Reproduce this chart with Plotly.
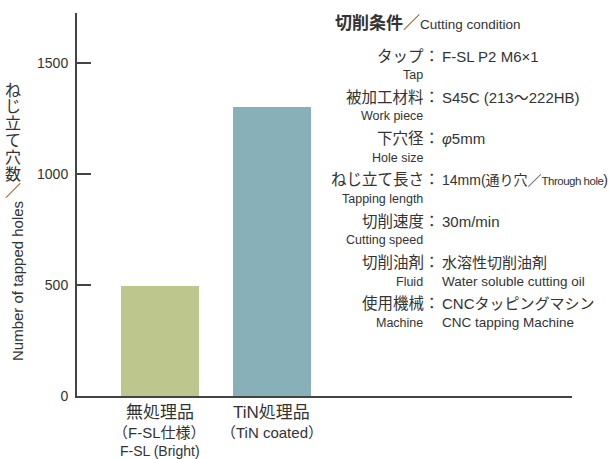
import plotly.graph_objects as go

# Data
categories = ["無処理品", "TiN処理品"]
cat_sub1 = ["（F-SL仕様）", "（TiN coated）"]
cat_sub2 = ["F-SL (Bright)", ""]
holes = [495, 1300]
bar_colors = ["#BDC68C", "#87B0B9"]
y_ticks = [0, 500, 1000, 1500]

cond_jp = ["タップ", "被加工材料", "下穴径", "ねじ立て長さ", "切削速度", "切削油剤", "使用機械"]
cond_en = ["Tap", "Work piece", "Hole size", "Tapping length", "Cutting speed", "Fluid", "Machine"]
cond_val = ["F-SL P2 M6×1", "S45C (213〜222HB)", "<i>φ</i>5mm",
            "<span style='font-size:14px'>14mm(通り穴／</span>"
            "<span style='font-size:11.5px;letter-spacing:-0.5px'>Through hole</span>"
            "<span style='font-size:14px'>)</span>",
            "30m/min", "水溶性切削油剤", "CNCタッピングマシン"]
cond_val_en = ["", "", "", "", "", "Water soluble cutting oil", "CNC tapping Machine"]

y_title_jp = "ねじ立て穴数／"
y_title_en = "Number of tapped holes"

FONT = "Liberation Sans, Arial, Noto Sans CJK JP, sans-serif"
TXT = "#333333"
AX = "#444444"

W, H = 612, 459
L, R, T, B = 77, 572, 13, 396


def px(x):
    return (x - L) / (R - L)


def py(y):
    return (B - y) / (B - T)


fig = go.Figure()
fig.add_trace(go.Bar(x=[0, 1], y=holes, width=0.7,
                     marker=dict(color=bar_colors, line=dict(width=0))))

ann = []
# category labels under the bars
for i, (c, s1, s2) in enumerate(zip(categories, cat_sub1, cat_sub2)):
    ann.append(dict(x=i, y=py(413), xref="x", yref="paper", text=c, showarrow=False,
                    font=dict(size=17, color=TXT), xanchor="center", yanchor="middle"))
    ann.append(dict(x=i, y=py(432), xref="x", yref="paper", text=s1, showarrow=False,
                    font=dict(size=15, color=TXT), xanchor="center", yanchor="middle"))
    if s2:
        ann.append(dict(x=i, y=py(451), xref="x", yref="paper", text=s2, showarrow=False,
                        font=dict(size=14, color=TXT), xanchor="center", yanchor="middle"))

# y-axis title: Japanese set vertically (upright glyphs), English rotated
for k, ch in enumerate(y_title_jp):
    ann.append(dict(x=px(13), y=py(90 + 16.8 * k), xref="paper", yref="paper",
                    text=ch, showarrow=False, font=dict(size=16, color=TXT),
                    xanchor="center", yanchor="middle"))
ann.append(dict(x=px(17), y=py(281), xref="paper", yref="paper",
                text=y_title_en, textangle=-90, showarrow=False,
                font=dict(size=15, color=TXT), xanchor="center", yanchor="middle"))

# cutting-condition block
ann.append(dict(x=px(333), y=py(23), xref="paper", yref="paper",
                text="<b>切削条件</b>／<span style='font-size:13.5px'>Cutting condition</span>",
                showarrow=False, font=dict(size=17, color=TXT), xanchor="left", yanchor="middle"))
row0, step = 56, 41.3
for i in range(len(cond_jp)):
    yy = row0 + step * i
    ann.append(dict(x=px(426), y=py(yy), xref="paper", yref="paper", text=cond_jp[i],
                    showarrow=False, font=dict(size=15.5, color=TXT), xanchor="right", yanchor="middle"))
    ann.append(dict(x=px(432), y=py(yy), xref="paper", yref="paper", text="：",
                    showarrow=False, font=dict(size=15.5, color=TXT), xanchor="center", yanchor="middle"))
    ann.append(dict(x=px(440), y=py(yy), xref="paper", yref="paper", text=cond_val[i],
                    showarrow=False, font=dict(size=15, color=TXT), xanchor="left", yanchor="middle"))
    ann.append(dict(x=px(425), y=py(yy + 19), xref="paper", yref="paper", text=cond_en[i],
                    showarrow=False, font=dict(size=12.5, color=TXT), xanchor="right", yanchor="middle"))
    if cond_val_en[i]:
        ann.append(dict(x=px(440), y=py(yy + 19), xref="paper", yref="paper", text=cond_val_en[i],
                        showarrow=False, font=dict(size=13.5, color=TXT), xanchor="left", yanchor="middle"))

fig.update_layout(
    width=W, height=H,
    margin=dict(l=L, r=W - R, t=T, b=H - B, pad=0),
    paper_bgcolor="white", plot_bgcolor="white",
    font=dict(family=FONT, color=TXT),
    showlegend=False,
    bargap=0,
    annotations=ann,
    xaxis=dict(range=[-0.743, 3.689], showgrid=False, zeroline=False, showticklabels=False,
               ticks="", showline=True, linecolor=AX, linewidth=2, fixedrange=True),
    yaxis=dict(range=[0, 1725], tickvals=y_ticks, ticktext=[str(v) for v in y_ticks],
               ticks="inside", ticklen=14, tickwidth=1.5, tickcolor=AX,
               showgrid=False, zeroline=False, showline=True, linecolor=AX, linewidth=2,
               tickfont=dict(size=14, color=TXT), ticklabelstandoff=4),
)

fig.write_html("out.html")
